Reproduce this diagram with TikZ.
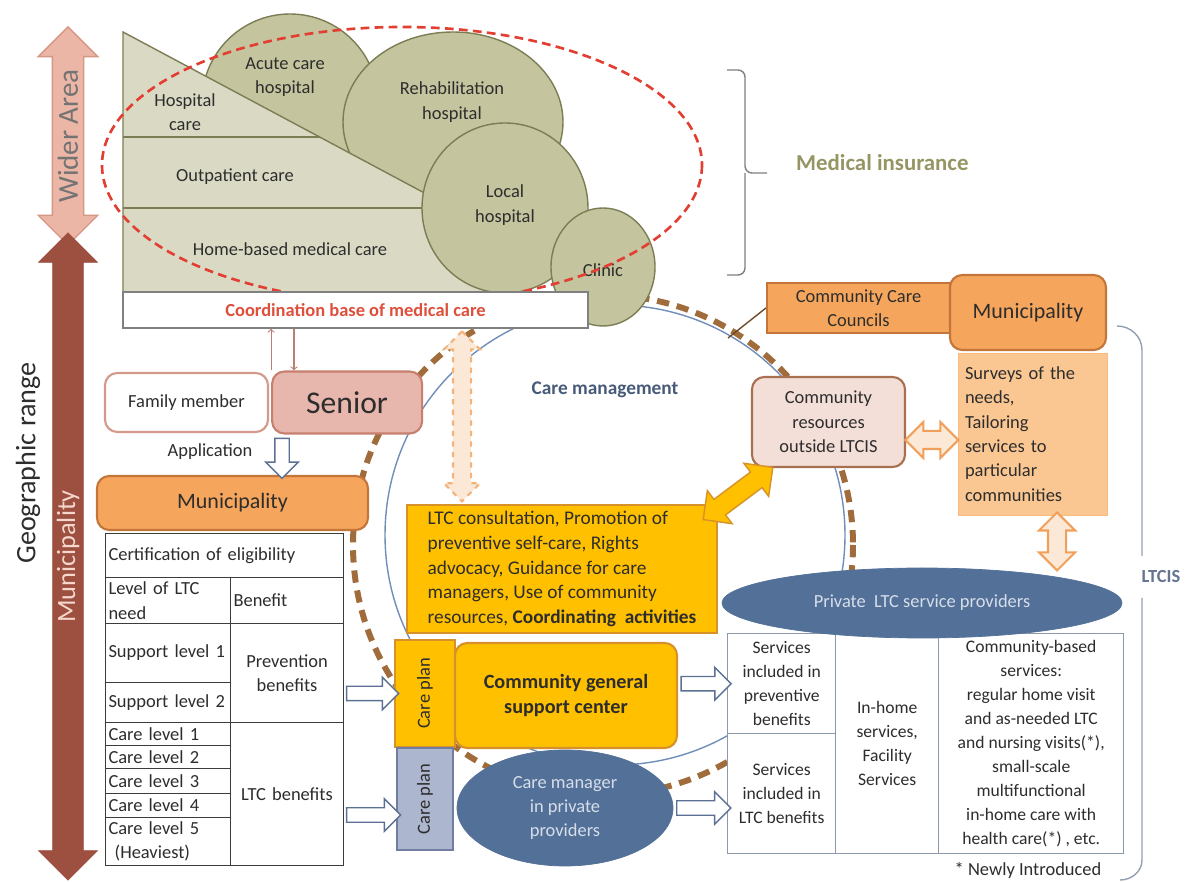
\documentclass[tikz,border=0pt]{standalone}
\usepackage{fontspec}
\setmainfont{Carlito}
\usetikzlibrary{positioning,shapes.geometric,shapes.arrows,calc}

\definecolor{txtgray}{RGB}{45,45,45}
\definecolor{medfill}{RGB}{196,196,158}
\definecolor{medlight}{RGB}{218,218,196}
\definecolor{medline}{RGB}{125,125,85}
\definecolor{medred}{RGB}{226,62,50}
\definecolor{coordred}{RGB}{222,80,60}
\definecolor{insurgreen}{RGB}{150,150,100}
\definecolor{pinkfill}{RGB}{236,182,166}
\definecolor{pinkline}{RGB}{214,150,130}
\definecolor{brownfill}{RGB}{158,80,64}
\definecolor{orangefill}{RGB}{245,166,92}
\definecolor{orangeline}{RGB}{196,118,58}
\definecolor{peachfill}{RGB}{250,198,146}
\definecolor{peachlight}{RGB}{252,232,214}
\definecolor{peachline}{RGB}{240,160,90}
\definecolor{resfill}{RGB}{243,222,216}
\definecolor{resline}{RGB}{168,112,80}
\definecolor{seniorfill}{RGB}{231,182,172}
\definecolor{seniorline}{RGB}{200,128,110}
\definecolor{gold}{RGB}{255,192,0}
\definecolor{goldline}{RGB}{214,146,40}
\definecolor{steel}{RGB}{82,112,152}
\definecolor{ovaltext}{RGB}{215,222,234}
\definecolor{planblue}{RGB}{172,182,206}
\definecolor{planline}{RGB}{112,126,160}
\definecolor{arrowblue}{RGB}{92,112,148}
\definecolor{circleblue}{RGB}{112,142,186}
\definecolor{dashbrown}{RGB}{160,108,60}
\definecolor{cellline}{RGB}{60,60,60}
\definecolor{svline}{RGB}{140,152,172}
\definecolor{bracegray}{RGB}{128,128,128}
\definecolor{ltcisblue}{RGB}{100,116,146}
\definecolor{mgmtblue}{RGB}{72,90,122}

\newcommand{\basefont}{\fontsize{10.5}{13.9}\selectfont}
\newcommand{\tablefont}{\fontsize{10}{13.6}\selectfont}

\begin{document}
\begin{tikzpicture}[x=0.2mm, y=-0.2mm,
every node/.style={font=\basefont, text=txtgray},
medshape/.style={draw=medline, fill=medfill, thick, inner sep=0pt},
roundbox/.style={rectangle, rounded corners=7pt, very thick},
orangebox/.style={rectangle, draw=orangeline, fill=orangefill, very thick},
goldbox/.style={rectangle, draw=goldline, fill=gold, very thick},
blueoval/.style={ellipse, draw=steel, fill=steel, text=ovaltext, inner sep=0pt},
cell/.style={rectangle, draw=cellline, fill=white, semithick, anchor=north west, inner xsep=0.6mm, inner ysep=0pt, align=left},
svcell/.style={rectangle, draw=svline, fill=white, thick, anchor=north west, inner sep=0pt, align=center, font=\tablefont},
bigarrow/.style={double arrow, rotate=90, inner xsep=0pt, inner ysep=3mm, double arrow head extend=2.8mm, minimum width=0pt},
hollowarrow/.style={single arrow, draw=arrowblue, fill=white, thick, inner xsep=0pt, inner ysep=1.3mm, single arrow head extend=1.8mm, minimum width=0pt},
peacharrow/.style={double arrow, draw=peachline, fill=peachlight, very thick, inner xsep=0pt, inner ysep=1.6mm, double arrow head extend=1.8mm, minimum width=0pt},
goldarrow/.style={double arrow, draw=goldline, fill=gold, thick, inner xsep=0pt, inner ysep=1.8mm, double arrow head extend=2.2mm, minimum width=0pt},
thinarrow/.style={->, draw=seniorline!80!gray, semithick},
]
\useasboundingbox (0,0) rectangle (1186,882);

%Care management circles
\draw[circleblue, thick] (615,535) circle [radius=230];
\draw[dashbrown, line width=3.4pt, dash pattern=on 7pt off 4.5pt] (603,545) circle [radius=250];

%Medical care
\node[medshape, circle, minimum size=35.2mm] (acute) at (290,102) {};
\node[medshape, ellipse, minimum width=44mm, minimum height=36mm] (rehab) at (453,122) {};
\filldraw[draw=medline, fill=medlight, thick] (123,32) -- (505,236) -- (505,292) -- (123,292) -- cycle;
\draw[medline, thick] (123,137) -- (320,137) (123,208) -- (470,208);
\node[medshape, ellipse, minimum width=33.2mm, minimum height=34mm] (local) at (505,208) {};
\node[medshape, ellipse, minimum width=20.8mm, minimum height=23.6mm] (clinic) at (603,267) {};

\node[align=center] (acutetxt) at (285,77) {Acute care\\hospital};
\node[align=center] (hosptxt) at (185,112) {Hospital\\care};
\node[align=center] (rehabtxt) at (452,102) {Rehabilitation\\hospital};
\node (outtxt) at (235,177) {Outpatient care};
\node (hometxt) at (290,249) {Home-based medical care};
\node[align=center] (localtxt) at (505,205) {Local\\hospital};
\node (clinictxt) at (603,270) {Clinic};

\draw[medred, line width=1.5pt, dash pattern=on 5pt off 3pt] (402,165) ellipse [x radius=300, y radius=138];

\node[rectangle, draw=bracegray, fill=white, thick, minimum width=93mm, minimum height=7.2mm,
      font=\basefont\bfseries, text=coordred] (coord) at (355.5,310) {Coordination base of medical care};

\draw[bracegray, thick, rounded corners=4pt] (727,70) -- (745,70) -- (745,173) -- (767,173);
\draw[bracegray, thick, rounded corners=4pt] (727,275) -- (745,275) -- (745,173);
\node[font=\fontsize{13}{15}\selectfont\bfseries, text=insurgreen, anchor=west] (insur) at (790,163) {Medical insurance};

%Geographic range
\node[bigarrow, fill=pinkfill, draw=pinkline, thick, minimum height=43.6mm] (widearrow) at (68,136) {};
\node[bigarrow, fill=brownfill, draw=brownfill, minimum height=129.4mm] (muniarrow) at (68,556.5) {};
\node[rotate=90, font=\fontsize{16.5}{18}\selectfont, text=black!55] (widetxt) at (widearrow.center) {Wider Area};
\node[rotate=90, font=\fontsize{15}{17}\selectfont, text=pinkfill!55!white] (munitxt) at (muniarrow.center) {Municipality};
\node[rotate=90, font=\fontsize{16}{18}\selectfont] (geotxt) at (28,463) {Geographic range};

%Senior and municipality
\node[roundbox, draw=seniorline!80, fill=white, minimum width=32.6mm, minimum height=11.8mm] (family) at (186.5,402.5) {Family member};
\node[roundbox, draw=seniorline, fill=seniorfill, minimum width=30mm, minimum height=12.4mm,
      font=\fontsize{18}{20}\selectfont, right=0.4mm of family] (senior) {Senior};
\node[roundbox, draw=orangeline, fill=orangefill, minimum width=54.2mm, minimum height=10.8mm,
      font=\fontsize{12.5}{14}\selectfont] (munil) at (232.5,503) {Municipality};

\coordinate (downx) at (294,0);
\draw[thinarrow] (senior.north west) -- (senior.north west |- coord.south);
\draw[thinarrow] (coord.south -| downx) -- (senior.north -| downx);

\coordinate (appa) at ([xshift=2.2mm]senior.south west);
\path (appa) -- (appa |- munil.north) node[midway, hollowarrow, rotate=-90, minimum height=8mm] (apparrow) {};
\node (apptxt) at (210,452) {Application};

%Eligibility table
\node[cell, minimum width=47.6mm, minimum height=8.8mm, text width=46.4mm] (cert) at (105,533) {Certification of eligibility};
\node[cell, minimum width=25mm, minimum height=9.2mm, text width=23.8mm] (level) at (105,577) {Level of LTC\\need};
\node[cell, minimum width=22.6mm, minimum height=9.2mm, text width=21.4mm] (benefit) at (230,577) {Benefit};
\node[cell, minimum width=25mm, minimum height=11.8mm, text width=23.8mm] (sup1) at (105,623) {\mbox{Support level 1}};
\node[cell, minimum width=25mm, minimum height=8mm, text width=23.8mm] (sup2) at (105,682) {\mbox{Support level 2}};
\node[cell, minimum width=25mm, minimum height=4.6mm, text width=23.8mm] (care1) at (105,722) {Care level 1};
\node[cell, minimum width=25mm, minimum height=4.6mm, text width=23.8mm] (care2) at (105,745) {Care level 2};
\node[cell, minimum width=25mm, minimum height=5mm, text width=23.8mm] (care3) at (105,768) {Care level 3};
\node[cell, minimum width=25mm, minimum height=4.8mm, text width=23.8mm] (care4) at (105,793) {Care level 4};
\node[cell, minimum width=25mm, minimum height=9.6mm, text width=23.8mm] (care5) at (105,817) {Care level 5\\\ (Heaviest)};
\node[cell, minimum width=22.6mm, minimum height=19.8mm, text width=21.4mm, align=center] (prevben) at (230,623) {Prevention\\benefits};
\node[cell, minimum width=22.6mm, minimum height=28.6mm, text width=21.4mm, align=center] (ltcben) at (230,722) {LTC benefits};

%Community general support center
\node[goldbox, minimum width=62mm, minimum height=25.6mm, align=left, font=\fontsize{11}{14}\selectfont] (ltcbox) at (562,569)
  {LTC consultation, Promotion of\\preventive self-care, Rights\\advocacy, Guidance for care\\managers, Use of community\\resources, \textbf{Coordinating\ \ activities}};
\node[goldbox, rotate=90, minimum width=21.4mm, minimum height=12mm] (plana) at (425,693.5) {Care plan};
\node[goldbox, rounded corners=7pt, minimum width=44.4mm, minimum height=21mm, align=center,
      font=\fontsize{11.5}{14}\selectfont\bfseries] (cgsc) at (566,695.5) {Community general\\support center};
\node[rectangle, draw=planline, fill=planblue, very thick, rotate=90, minimum width=20.4mm, minimum height=11.2mm] (planb) at (425,799) {Care plan};
\node[blueoval, minimum width=43.2mm, minimum height=23.2mm, align=center] (cman) at (565,808) {Care manager\\in private\\providers};
\node[font=\fontsize{11}{13}\selectfont\bfseries, text=mgmtblue] (mgmt) at (605,390) {Care management};

%Right side
\node[orangebox, minimum width=36.6mm, minimum height=10mm, align=center] (ccc) at (858.5,308) {Community Care\\Councils};
\node[roundbox, draw=orangeline, fill=orangefill, minimum width=31.2mm, minimum height=15mm,
      font=\fontsize{12.5}{14}\selectfont] (munir) at (1028,312.5) {Municipality};
\node[rectangle, draw=peachfill!85!orange, fill=peachfill, minimum width=29.8mm, minimum height=32.4mm,
      align=left, text width=27mm, inner xsep=1.4mm] (surveys) at (1032.5,434)
  {Surveys of the\\needs,\\Tailoring\\services to\\particular\\communities};
\node[roundbox, draw=resline, fill=resfill, minimum width=30.6mm, minimum height=18mm, align=center] (comres) at (828.5,422)
  {Community\\resources\\outside LTCIS};
\coordinate (councilfoot) at (728,338);
\draw[dashbrown!70!black, thick] (ccc.west) -- (councilfoot);

%Services table
\node[svcell, minimum width=21.6mm, minimum height=20mm] (svprev) at (727,633) {Services\\included in\\preventive\\benefits};
\node[svcell, minimum width=21.6mm, minimum height=24mm] (svltc) at (727,733) {Services\\included in\\LTC benefits};
\node[svcell, minimum width=20.6mm, minimum height=44mm] (svhome) at (835,633) {In-home\\services,\\Facility\\Services};
\node[svcell, minimum width=37mm, minimum height=44mm] (svcomm) at (938,633)
  {Community-based\\services:\\regular home visit\\and as-needed LTC\\and nursing visits(*),\\small-scale\\multifunctional\\in-home care with\\health care(*) , etc.};
\node (newly) at (1028,870) {* Newly Introduced};
\node[blueoval, minimum width=80mm, minimum height=14mm] (private) at (922,603) {Private\ \ LTC service providers};

\draw[ltcisblue!70!white, thick] (1117,326) to[out=0, in=90] (1142,350) -- (1142,556);
\draw[ltcisblue!70!white, thick] (1142,598) -- (1142,860) to[out=-90, in=0] (1120,880);
\node[font=\basefont\bfseries, text=ltcisblue] (ltcis) at (1161,577) {LTCIS};

%Arrows
\path (prevben.east |- plana.north) -- (plana.north) node[midway, hollowarrow, minimum height=10.4mm] {};
\coordinate (planbin) at ($(planb.north)+(0,16)$);
\path (ltcben.east |- planbin) -- (planbin) node[midway, hollowarrow, minimum height=10.8mm] {};
\path (cgsc.east |- svprev.west) -- (svprev.west) node[midway, hollowarrow, minimum height=10mm] {};
\path (cman.east) -- (cman.east -| svltc.west) node[midway, hollowarrow, minimum height=10.8mm] {};

\coordinate (pairy) at ($(comres.east)+(0,18)$);
\path (pairy) -- (pairy -| surveys.west) node[midway, peacharrow, minimum height=10.6mm] {};
\coordinate (survx) at ($(surveys.south)+(24.5,0)$);
\path (survx) -- (survx |- private.north) node[midway, peacharrow, rotate=90, minimum height=11.6mm] {};
\path ([shift={(-14,15)}]ltcbox.north east) -- ([shift={(21,0)}]comres.south west)
  node[midway, sloped, goldarrow, minimum height=17.4mm] {};
\coordinate (dashx) at (462,0);
\path (coord.south -| dashx) -- (ltcbox.north -| dashx)
  node[midway, peacharrow, dashed, draw=peachline!80, rotate=90, minimum height=34mm] {};
\end{tikzpicture}
\end{document}
